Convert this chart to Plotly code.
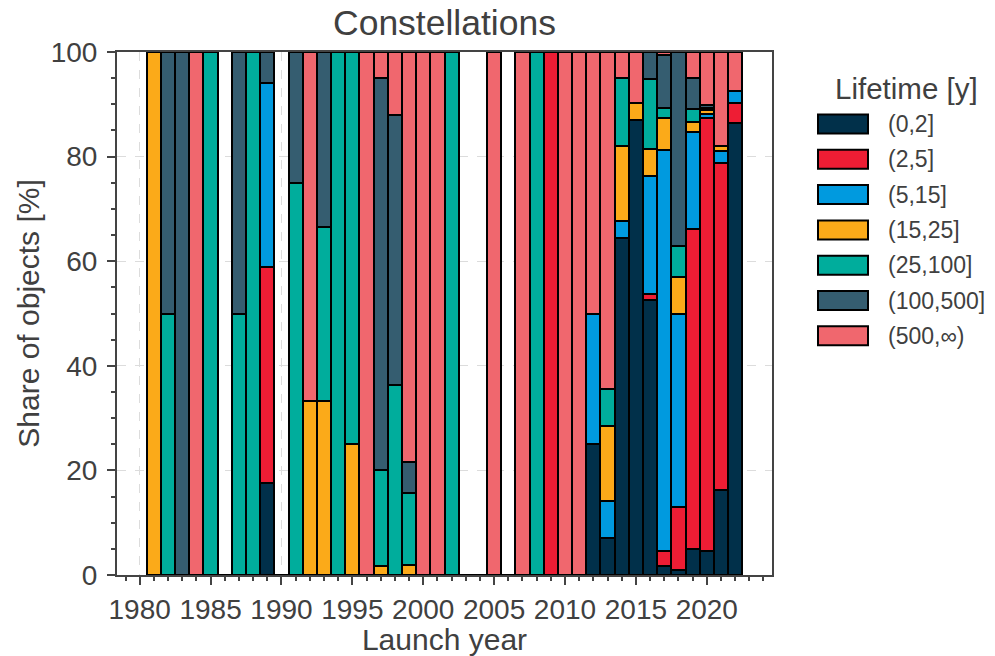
import plotly.graph_objects as go

years = list(range(1981, 2023))

categories = ["(0,2]", "(2,5]", "(5,15]", "(15,25]", "(25,100]", "(100,500]", "(500,∞)"]
colors = ["#01304A", "#EE1D34", "#009ADF", "#FBAA19", "#00AD9C", "#355D70", "#F0676E"]

# share of objects [%] per launch year, one list per lifetime class
share_0_2 = [0, 0, 0, 0, 0, 0, 0, 0, 17.6, 0,
             0, 0, 0, 0, 0, 0, 0, 0, 0, 0,
             0, 0, 0, 0, 0, 0, 0, 0, 0, 0,
             0, 25.0, 7.1, 64.5, 87.0, 52.6, 1.8, 1.0, 5.0, 4.5,
             16.3, 86.4]
share_2_5 = [0, 0, 0, 0, 0, 0, 0, 0, 41.2, 0,
             0, 0, 0, 0, 0, 0, 0, 0, 0, 0,
             0, 0, 0, 0, 0, 0, 0, 0, 100, 0,
             0, 0, 0, 0, 0, 1.2, 2.8, 12.0, 61.2, 82.8,
             62.5, 3.9]
share_5_15 = [0, 0, 0, 0, 0, 0, 0, 0, 35.3, 0,
              0, 0, 0, 0, 0, 0, 0, 0, 0, 0,
              0, 0, 0, 0, 0, 0, 0, 0, 0, 0,
              0, 25.0, 7.1, 3.2, 0, 22.5, 76.6, 37.0, 18.6, 0.9,
              2.3, 2.3]
share_15_25 = [100, 0, 0, 0, 0, 0, 0, 0, 0, 0,
               0, 33.3, 33.3, 0, 25.0, 0, 1.7, 0, 2.0, 0,
               0, 0, 0, 0, 0, 0, 0, 0, 0, 0,
               0, 0, 14.3, 14.4, 3.3, 5.2, 6.1, 7.0, 1.8, 0.8,
               1.0, 0]
share_25_100 = [0, 50, 0, 0, 100, 0, 50, 100, 0, 0,
                75, 0, 33.3, 100, 75.0, 0, 18.3, 36.4, 13.7, 0,
                0, 100, 0, 0, 0, 0, 0, 100, 0, 0,
                0, 0, 7.1, 12.9, 0, 13.3, 1.9, 6.0, 2.5, 0.2,
                0, 0]
share_100_500 = [0, 50, 100, 0, 0, 0, 50, 0, 5.9, 0,
                 25, 0, 33.4, 0, 0, 0, 75.0, 51.5, 5.9, 0,
                 0, 0, 0, 0, 0, 0, 0, 0, 0, 0,
                 0, 0, 0, 0, 0, 5.2, 10.2, 37.0, 5.9, 0.6,
                 0, 0]
share_500_inf = [0, 0, 0, 100, 0, 0, 0, 0, 0, 0,
                 0, 66.7, 0, 0, 0, 100, 5.0, 12.1, 78.4, 100,
                 100, 0, 0, 0, 100, 0, 100, 0, 0, 100,
                 100, 50.0, 64.4, 5.0, 9.7, 0, 0.6, 0, 5.0, 10.2,
                 17.9, 7.4]

series = [share_0_2, share_2_5, share_5_15, share_15_25,
          share_25_100, share_100_500, share_500_inf]

x_ticks = [1980, 1985, 1990, 1995, 2000, 2005, 2010, 2015, 2020]
y_ticks = [0, 20, 40, 60, 80, 100]

FONT = "Liberation Sans, Arial, sans-serif"
TXT = "#404040"
AX = "#444444"

fig = go.Figure()
for name, col, vals in zip(categories, colors, series):
    fig.add_trace(go.Bar(
        x=years, y=vals, name=name, width=1,
        marker=dict(color=col, line=dict(color="black", width=2.1)),
        showlegend=False,
    ))

# custom legend (wide swatches like the reference)
L0, L1 = 117, 772
T0, B0 = 52, 575
def px_x(p):
    return (p - L0) / (L1 - L0)
def px_y(p):
    return (B0 - p) / (B0 - T0)

shapes = []
annotations = []
for i, (name, col) in enumerate(zip(categories, colors)):
    yc = 124 + 35.3 * i
    shapes.append(dict(type="rect", xref="paper", yref="paper",
                       x0=px_x(818), x1=px_x(868), y0=px_y(yc + 9.5), y1=px_y(yc - 9.5),
                       fillcolor=col, line=dict(color="black", width=2)))
    annotations.append(dict(xref="paper", yref="paper", x=px_x(886), y=px_y(yc),
                            text=name, showarrow=False, xanchor="left", yanchor="middle",
                            font=dict(family=FONT, size=23, color=TXT)))
annotations.append(dict(xref="paper", yref="paper", x=px_x(906), y=px_y(88),
                        text="Lifetime [y]", showarrow=False, xanchor="center", yanchor="middle",
                        font=dict(family=FONT, size=29.5, color=TXT)))

fig.update_layout(
    width=995, height=656,
    margin=dict(l=L0, r=995 - L1, t=T0, b=656 - B0),
    barmode="stack", bargap=0,
    plot_bgcolor="white", paper_bgcolor="white",
    font=dict(family=FONT, color=TXT),
    title=dict(text="Constellations", x=0.5, xref="paper", xanchor="center",
               y=1 - 23 / 656, yanchor="middle",
               font=dict(family=FONT, size=35.5, color=TXT)),
    shapes=shapes, annotations=annotations,
    showlegend=False,
)
fig.update_xaxes(
    range=[1978.4, 2024.6], tickvals=x_ticks, ticktext=[str(v) for v in x_ticks],
    ticks="outside", ticklen=8, tickwidth=2, tickcolor=AX,
    minor=dict(dtick=1, tick0=1980, ticks="outside", ticklen=4, tickwidth=1.5, tickcolor=AX, showgrid=False),
    showline=True, linecolor=AX, linewidth=2, mirror=True,
    showgrid=True, gridcolor="#dcdcdc", griddash="dash", gridwidth=1,
    zeroline=False, automargin=False,
    tickfont=dict(family=FONT, size=28, color=TXT),
    title=dict(text="Launch year", font=dict(family=FONT, size=30, color=TXT), standoff=10),
)
fig.update_yaxes(
    range=[0, 100], tickvals=y_ticks,
    ticks="outside", ticklen=8, tickwidth=2, tickcolor=AX,
    minor=dict(dtick=5, tick0=0, ticks="outside", ticklen=4, tickwidth=1.5, tickcolor=AX, showgrid=False),
    showline=True, linecolor=AX, linewidth=2, mirror=True,
    showgrid=True, gridcolor="#dcdcdc", griddash="dash", gridwidth=1,
    zeroline=False, automargin=False, ticklabelstandoff=4,
    tickfont=dict(family=FONT, size=28, color=TXT),
    title=dict(text="Share of objects [%]", font=dict(family=FONT, size=30, color=TXT), standoff=2),
)

fig.write_html("out.html", config={"displayModeBar": False},
               post_script="document.body.style.margin='0';")
